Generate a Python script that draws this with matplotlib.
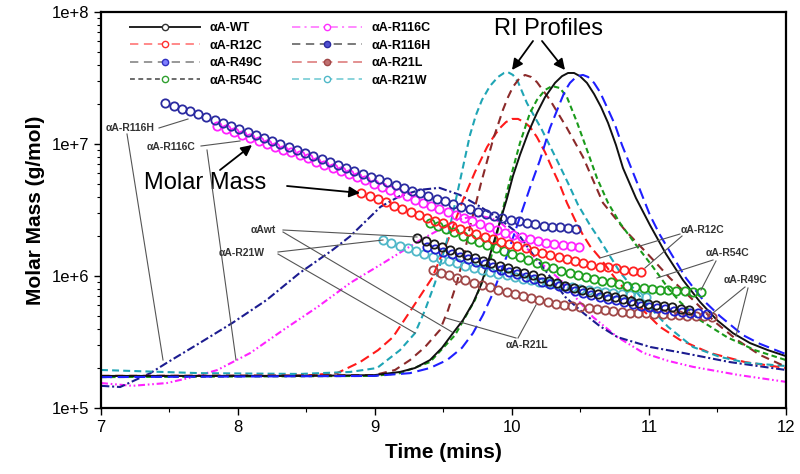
import matplotlib
matplotlib.use('Agg')
import matplotlib.pyplot as plt
from matplotlib.lines import Line2D
from matplotlib.ticker import LogLocator, NullFormatter, FixedLocator, MultipleLocator
import numpy as np

plt.rcParams['font.family'] = ['Liberation Sans', 'DejaVu Sans']
plt.rcParams['lines.scale_dashes'] = False

# ---- Molar mass (x1e6 g/mol), one reading every 0.06 min from the start time ----
STEP = 0.06
mm_r116h_t0 = 7.47
mm_r116h = [20.45, 19.47, 18.54, 17.66, 16.85, 16.02, 15.15, 14.35, 13.60, 12.88, 12.24, 11.66, 11.08,
            10.54, 10.02, 9.52, 9.07, 8.62, 8.17, 7.74, 7.33, 6.93, 6.59, 6.26, 5.96, 5.66, 5.39, 5.13,
            4.87, 4.63, 4.41, 4.22, 4.02, 3.85, 3.67, 3.50, 3.35, 3.20, 3.05, 2.95, 2.86, 2.76, 2.67,
            2.60, 2.54, 2.47, 2.41, 2.37, 2.34, 2.31, 2.29]
mm_r116c_t0 = 7.85
mm_r116c = [13.69, 13.02, 12.35, 11.74, 11.16, 10.59, 10.07, 9.57, 9.08, 8.64, 8.20, 7.77, 7.35, 6.96,
            6.59, 6.24, 5.91, 5.60, 5.30, 5.02, 4.75, 4.48, 4.24, 4.01, 3.78, 3.58, 3.38, 3.20, 3.03,
            2.88, 2.74, 2.61, 2.48, 2.36, 2.24, 2.13, 2.03, 1.97, 1.90, 1.84, 1.78, 1.74, 1.71, 1.68, 1.65]
mm_r12c_t0 = 8.90
mm_r12c = [4.25, 4.03, 3.82, 3.61, 3.42, 3.24, 3.07, 2.91, 2.75, 2.62, 2.50, 2.39, 2.28, 2.18, 2.08,
           1.99, 1.90, 1.82, 1.75, 1.68, 1.62, 1.55, 1.49, 1.44, 1.39, 1.34, 1.29, 1.25, 1.21, 1.18,
           1.16, 1.14, 1.12, 1.10, 1.08]
mm_r54c_t0 = 9.40
mm_r54c = [2.54, 2.40, 2.27, 2.14, 2.02, 1.91, 1.81, 1.71, 1.62, 1.54, 1.46, 1.39, 1.32, 1.25, 1.20,
           1.15, 1.10, 1.05, 1.01, 0.981, 0.951, 0.923, 0.894, 0.867, 0.840, 0.827, 0.814, 0.800,
           0.788, 0.779, 0.774, 0.768, 0.763, 0.758]
mm_wt_t0 = 9.31
mm_wt = [1.94, 1.83, 1.74, 1.66, 1.58, 1.51, 1.44, 1.37, 1.31, 1.25, 1.19, 1.14, 1.10, 1.05, 1.01,
         0.964, 0.924, 0.885, 0.847, 0.812, 0.781, 0.756, 0.733, 0.710, 0.688, 0.667, 0.647, 0.629,
         0.616, 0.603, 0.590, 0.578, 0.566, 0.555]
mm_r49c_t0 = 9.38
mm_r49c = [1.66, 1.59, 1.52, 1.46, 1.40, 1.34, 1.28, 1.23, 1.17, 1.12, 1.08, 1.03, 0.986, 0.944, 0.905,
           0.870, 0.837, 0.805, 0.775, 0.748, 0.723, 0.698, 0.674, 0.653, 0.631, 0.610, 0.594, 0.582,
           0.570, 0.558, 0.547, 0.537, 0.529, 0.521, 0.513]
mm_r21w_t0 = 9.06
mm_r21w = [1.87, 1.78, 1.70, 1.62, 1.54, 1.47, 1.40, 1.35, 1.30, 1.25, 1.20, 1.15, 1.11, 1.07, 1.03,
           1.01, 0.981, 0.956, 0.933, 0.908, 0.887, 0.864, 0.843, 0.821, 0.804, 0.790, 0.775, 0.762,
           0.748, 0.734, 0.721, 0.708, 0.696]
mm_r21l_t0 = 9.42
mm_r21l = [1.11, 1.06, 1.02, 0.972, 0.931, 0.891, 0.852, 0.820, 0.790, 0.762, 0.734, 0.708, 0.683,
           0.658, 0.632, 0.617, 0.606, 0.594, 0.584, 0.574, 0.563, 0.553, 0.544, 0.534, 0.529, 0.525,
           0.521, 0.517, 0.513, 0.509, 0.505, 0.501, 0.497, 0.494, 0.489]

# ---- RI / light scattering profiles (relative signal, 0-1 of plot height) ----
ri_wt_t = [7.000, 8.453, 8.993, 9.182, 9.292, 9.401, 9.489, 9.569, 9.642, 9.715, 9.774, 9.818, 9.861,
           9.912, 9.964, 10.007, 10.058, 10.117, 10.182, 10.241, 10.314, 10.365, 10.409, 10.453, 10.496,
           10.547, 10.599, 10.650, 10.701, 10.759, 10.810, 10.905, 11.007, 11.124, 11.248, 11.372,
           11.496, 11.613, 11.737, 11.869, 12.000]
ri_wt = [0.081, 0.081, 0.083, 0.091, 0.101, 0.121, 0.152, 0.189, 0.222, 0.265, 0.311, 0.361, 0.412,
         0.470, 0.530, 0.586, 0.639, 0.694, 0.745, 0.785, 0.821, 0.838, 0.846, 0.846, 0.838, 0.821,
         0.793, 0.760, 0.720, 0.664, 0.606, 0.530, 0.462, 0.389, 0.323, 0.268, 0.222, 0.189, 0.164,
         0.146, 0.131]
ri_r49c_t = [7.000, 8.993, 9.255, 9.401, 9.526, 9.635, 9.715, 9.788, 9.861, 9.964, 10.058, 10.131,
             10.204, 10.277, 10.350, 10.387, 10.423, 10.474, 10.518, 10.555, 10.599, 10.642, 10.693,
             10.752, 10.803, 10.861, 10.934, 11.007, 11.080, 11.168, 11.270, 11.394, 11.518, 11.686,
             11.810, 12.000]
ri_r49c = [0.078, 0.081, 0.088, 0.101, 0.121, 0.152, 0.189, 0.235, 0.290, 0.386, 0.482, 0.556, 0.626,
           0.707, 0.770, 0.801, 0.821, 0.838, 0.841, 0.836, 0.821, 0.798, 0.760, 0.715, 0.664, 0.614,
           0.551, 0.487, 0.437, 0.386, 0.328, 0.273, 0.232, 0.184, 0.162, 0.136]
ri_r54c_t = [7.000, 8.993, 9.182, 9.401, 9.584, 9.730, 9.839, 9.912, 9.985, 10.058, 10.131, 10.182,
             10.241, 10.292, 10.350, 10.401, 10.474, 10.547, 10.620, 10.701, 10.788, 10.905, 11.029,
             11.139, 11.226, 11.372, 11.569, 11.774, 12.000]
ri_r54c = [0.078, 0.081, 0.088, 0.116, 0.184, 0.273, 0.369, 0.470, 0.576, 0.669, 0.745, 0.778, 0.803,
           0.813, 0.808, 0.785, 0.722, 0.652, 0.581, 0.518, 0.467, 0.412, 0.356, 0.303, 0.268, 0.222,
           0.179, 0.146, 0.121]
ri_r21l_t = [7.000, 8.993, 9.146, 9.255, 9.365, 9.474, 9.533, 9.599, 9.650, 9.693, 9.774, 9.861, 9.934,
             9.971, 10.007, 10.051, 10.095, 10.139, 10.182, 10.277, 10.401, 10.518, 10.591, 10.664,
             10.825, 10.985, 11.153, 11.321, 11.482, 11.642, 11.810, 12.000]
ri_r21l = [0.081, 0.083, 0.096, 0.121, 0.154, 0.197, 0.247, 0.318, 0.386, 0.457, 0.568, 0.677, 0.753,
           0.785, 0.811, 0.831, 0.841, 0.836, 0.823, 0.778, 0.707, 0.634, 0.576, 0.518, 0.449, 0.391,
           0.328, 0.273, 0.217, 0.172, 0.134, 0.104]
ri_r12c_t = [7.000, 8.453, 8.723, 8.891, 9.022, 9.131, 9.277, 9.416, 9.533, 9.642, 9.730, 9.818, 9.869,
             9.912, 9.956, 10.000, 10.044, 10.088, 10.131, 10.182, 10.241, 10.292, 10.350, 10.401,
             10.460, 10.518, 10.569, 10.642, 10.752, 10.861, 10.971, 11.080, 11.226, 11.445, 11.701,
             12.000]
ri_r12c = [0.081, 0.081, 0.088, 0.116, 0.146, 0.179, 0.255, 0.328, 0.424, 0.525, 0.596, 0.659, 0.687,
           0.707, 0.722, 0.730, 0.730, 0.722, 0.710, 0.684, 0.646, 0.606, 0.563, 0.518, 0.475, 0.437,
           0.409, 0.379, 0.328, 0.285, 0.242, 0.205, 0.172, 0.139, 0.116, 0.101]
ri_r21w_t = [7.000, 7.723, 8.453, 8.818, 9.015, 9.182, 9.292, 9.365, 9.438, 9.526, 9.606, 9.693, 9.737,
             9.781, 9.839, 9.898, 9.942, 9.971, 10.007, 10.044, 10.109, 10.219, 10.328, 10.409, 10.482,
             10.569, 10.642, 10.788, 10.956, 11.139, 11.321, 11.518, 11.715, 12.000]
ri_r21w = [0.096, 0.088, 0.086, 0.091, 0.101, 0.146, 0.189, 0.247, 0.316, 0.424, 0.551, 0.689, 0.740,
           0.778, 0.813, 0.836, 0.846, 0.848, 0.841, 0.823, 0.770, 0.702, 0.626, 0.568, 0.513, 0.462,
           0.424, 0.343, 0.273, 0.205, 0.154, 0.129, 0.114, 0.106]
ls_r116h_t = [7.00, 7.14, 7.36, 7.48, 7.72, 7.96, 8.21, 8.45, 8.69, 8.82, 9.04, 9.18, 9.33, 9.47, 9.62,
              9.77, 9.91, 10.04, 10.15, 10.28, 10.39, 10.52, 10.64, 10.77, 11.01, 11.25, 11.59, 12.00]
ls_r116h = [0.056, 0.053, 0.088, 0.114, 0.164, 0.215, 0.273, 0.341, 0.399, 0.434, 0.508, 0.535, 0.551,
            0.556, 0.538, 0.508, 0.477, 0.442, 0.389, 0.331, 0.280, 0.240, 0.207, 0.179, 0.154, 0.139,
            0.116, 0.096]
ls_r116c_t = [7.00, 7.23, 7.48, 7.67, 7.85, 8.09, 8.33, 8.58, 8.82, 9.06, 9.33, 9.60, 9.69, 9.77, 9.84,
              9.91, 10.06, 10.18, 10.28, 10.37, 10.48, 10.59, 10.77, 10.96, 11.14, 11.32, 11.66, 12.00]
ls_r116c = [0.063, 0.056, 0.063, 0.078, 0.096, 0.139, 0.197, 0.255, 0.316, 0.366, 0.424, 0.475, 0.482,
            0.485, 0.480, 0.470, 0.424, 0.374, 0.346, 0.318, 0.273, 0.230, 0.179, 0.139, 0.119, 0.104,
            0.083, 0.066]

fig = plt.figure(figsize=(8, 4.74), dpi=100)
ax = fig.add_axes([101 / 800, 1 - 408 / 474, 685 / 800, 396 / 474])
ax.set_yscale('log')
ax.set_xlim(7, 12)
ax.set_ylim(1e5, 1e8)

prof = ax.get_xaxis_transform()
lw = 1.5
ax.plot(ls_r116c_t, ls_r116c, color='#ff22ff', lw=lw, ls=(0, (5, 2, 1.2, 2, 1.2, 2)), transform=prof, zorder=2)
ax.plot(ls_r116h_t, ls_r116h, color='#1c1c90', lw=lw, ls=(0, (6, 2, 1.5, 2)), transform=prof, zorder=2)
ax.plot(ri_r12c_t, ri_r12c, color='#ff1a1a', lw=lw, ls=(0, (7, 3.5)), transform=prof, zorder=2)
ax.plot(ri_r21w_t, ri_r21w, color='#1fa5b5', lw=lw, ls=(0, (5, 3)), transform=prof, zorder=2)
ax.plot(ri_r21l_t, ri_r21l, color='#8b2a2a', lw=lw, ls=(0, (6, 4)), transform=prof, zorder=2)
ax.plot(ri_r54c_t, ri_r54c, color='#1a9a1a', lw=lw, ls=(0, (4, 2.5)), transform=prof, zorder=2)
ax.plot(ri_wt_t, ri_wt, color='#111111', lw=1.4, ls='-', transform=prof, zorder=2)
ax.plot(ri_r49c_t, ri_r49c, color='#1f1fff', lw=lw, ls=(0, (8, 4)), transform=prof, zorder=2)

# molar mass circles
series = [
    (mm_r21l_t0, mm_r21l, '#a04848'),
    (mm_r21w_t0, mm_r21w, '#4fb7c8'),
    (mm_r49c_t0, mm_r49c, '#2020d0'),
    (mm_wt_t0, mm_wt, '#1a1a1a'),
    (mm_r54c_t0, mm_r54c, '#1fa01f'),
    (mm_r12c_t0, mm_r12c, '#ff2020'),
    (mm_r116c_t0, mm_r116c, '#ff22ff'),
    (mm_r116h_t0, mm_r116h, '#2a2aa0'),
]
for t0, vals, col in series:
    t = t0 + STEP * np.arange(len(vals))
    ax.plot(t, np.array(vals) * 1e6, ls='none', marker='o', ms=6, mfc='none', mec=col, mew=1.3, zorder=3)

# axes styling
ax.yaxis.set_major_locator(FixedLocator([1e5, 1e6, 1e7, 1e8]))
ax.set_yticklabels(['1e+5', '1e+6', '1e+7', '1e+8'])
ax.yaxis.set_minor_locator(LogLocator(base=10, subs=np.arange(2, 10)))
ax.yaxis.set_minor_formatter(NullFormatter())
ax.xaxis.set_major_locator(MultipleLocator(1))
ax.xaxis.set_minor_locator(MultipleLocator(0.5))
ax.tick_params(which='major', direction='out', length=5, width=1, labelsize=12)
ax.tick_params(which='minor', direction='out', length=3, width=0.8)
for s in ax.spines.values():
    s.set_linewidth(1.6)
ax.set_xlabel('Time (mins)', fontsize=15, fontweight='bold', labelpad=6)
ax.set_ylabel('Molar Mass (g/mol)', fontsize=15, fontweight='bold', labelpad=5)

# legend
handles = [
    Line2D([], [], color='#222222', lw=1.4, ls='-', marker='o', ms=4.5, mfc='white', mec='#333333'),
    Line2D([], [], color='#ff8080', lw=1.3, ls=(0, (6, 4)), marker='o', ms=4.5, mfc='white', mec='#ff3030'),
    Line2D([], [], color='#909090', lw=1.3, ls=(0, (6, 4)), marker='o', ms=4.5, mfc='#8080ff', mec='#3030c0'),
    Line2D([], [], color='#606060', lw=1.3, ls=(0, (3.5, 2.5)), marker='o', ms=4.5, mfc='white', mec='#30a030'),
    Line2D([], [], color='#ff80ff', lw=1.3, ls=(0, (6, 3, 1.5, 3)), marker='o', ms=4.5, mfc='white', mec='#ff30ff'),
    Line2D([], [], color='#707070', lw=1.3, ls=(0, (6, 4)), marker='o', ms=4.5, mfc='#5050d0', mec='#2a2aa0'),
    Line2D([], [], color='#e08888', lw=1.3, ls=(0, (7, 4)), marker='o', ms=4.5, mfc='#c07070', mec='#a04848'),
    Line2D([], [], color='#80d0d8', lw=1.3, ls=(0, (5, 3)), marker='o', ms=4.5, mfc='white', mec='#50b8c8'),
]
labels = ['αA-WT', 'αA-R12C', 'αA-R49C', 'αA-R54C', 'αA-R116C', 'αA-R116H', 'αA-R21L', 'αA-R21W']
ax.legend(handles, labels, loc='upper left', bbox_to_anchor=(0.042, 0.975), ncol=2, frameon=False,
          handlelength=5.6, handletextpad=0.8, columnspacing=2.3, labelspacing=0.45, borderpad=0,
          borderaxespad=0, numpoints=1, prop={'weight': 'bold', 'size': 9})


def P(x, y):
    # reference pixel -> axes fraction
    return ((x - 101) / 685, (408 - y) / 396)


def lead(p0, p1):
    (x0, y0), (x1, y1) = P(*p0), P(*p1)
    ax.plot([x0, x1], [y0, y1], color='#555555', lw=0.8, transform=ax.transAxes, zorder=4)


arrow = dict(arrowstyle='-|>', color='black', lw=1.3, mutation_scale=16, shrinkA=0, shrinkB=0)
ax.text(*P(548, 29), 'RI Profiles', transform=ax.transAxes, fontsize=17, ha='center', va='center')
ax.annotate('', xy=P(512, 70), xytext=P(533, 41), xycoords='axes fraction', arrowprops=arrow)
ax.annotate('', xy=P(565, 70), xytext=P(542, 41), xycoords='axes fraction', arrowprops=arrow)
ax.text(*P(205, 183), 'Molar Mass', transform=ax.transAxes, fontsize=17, ha='center', va='center')
ax.annotate('', xy=P(252, 145), xytext=P(220, 170), xycoords='axes fraction', arrowprops=arrow)
ax.annotate('', xy=P(360, 193), xytext=P(287, 186), xycoords='axes fraction', arrowprops=arrow)

small = dict(transform=ax.transAxes, fontsize=7.5, fontweight='bold', color='#333333', va='center', zorder=5)
ax.text(*P(106, 128), 'αA-R116H', ha='left', **small)
lead((159, 128), (188, 119))
lead((127, 134), (163, 360))
ax.text(*P(147, 147), 'αA-R116C', ha='left', **small)
lead((201, 146), (240, 141))
lead((207, 150), (236, 360))
ax.text(*P(251, 230), 'αAwt', ha='left', **small)
lead((283, 230), (417, 237))
lead((283, 232), (452, 332))
ax.text(*P(219, 253), 'αA-R21W', ha='left', **small)
lead((278, 252), (383, 240))
lead((278, 254), (415, 333))
ax.text(*P(506, 345), 'αA-R21L', ha='left', **small)
lead((516, 338), (446, 318))
lead((518, 338), (536, 305))
ax.text(*P(681, 230), 'αA-R12C', ha='left', **small)
lead((680, 234), (600, 258))
lead((682, 236), (645, 268))
ax.text(*P(706, 253), 'αA-R54C', ha='left', **small)
lead((713, 260), (657, 278))
lead((716, 261), (701, 290))
ax.text(*P(724, 280), 'αA-R49C', ha='left', **small)
lead((745, 287), (713, 313))
lead((748, 288), (736, 336))

fig.savefig('out.png', dpi=100)
